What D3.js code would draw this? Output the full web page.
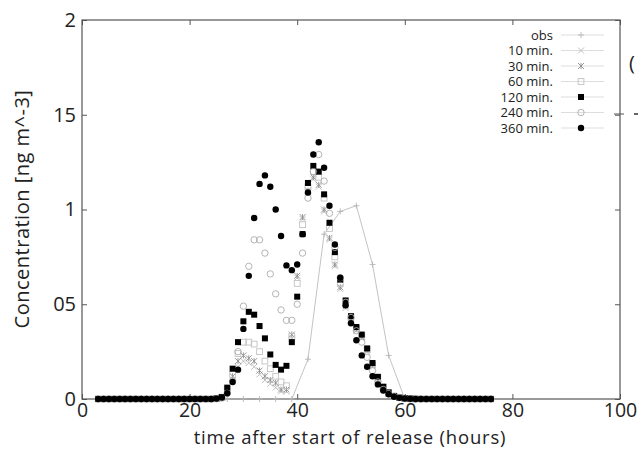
<!DOCTYPE html>
<html>
<head>
<meta charset="utf-8">
<script src="https://cdn.jsdelivr.net/npm/d3@7"></script>
<style>
  body { margin: 0; background: #fff; }
  svg { display: block; }
  text { font-family: "Open Sans", "Noto Sans", sans-serif; fill: #222; }
</style>
</head>
<body>
<svg id="chart" width="638" height="449"></svg>
<script>
// hours of model output
var hours = d3.range(3, 77);
// observation times (every 3 h)
var obsHours = [3, 6, 9, 12, 15, 18, 21, 24, 27, 30, 33, 36, 39, 42, 45, 48, 51, 54, 57, 60, 63, 66, 69, 72, 75];
var obs = [0, 0, 0, 0, 0, 0, 0, 0, 0, 0, 0, 0, 0, 0.21, 0.87, 0.99, 1.02, 0.71, 0.23, 0, 0, 0, 0, 0, 0];

// model runs, hours 3..76
var m10 = [0,0,0,0,0,0,0,0,0,0,0,0,0,0,0,0,0,0,0,0,0,0,
  0.002,0.008,0.04,0.10,0.17,0.20,0.19,0.17,0.13,0.10,0.08,0.06,0.04,0.04,0.32,0.64,0.95,1.09,1.16,1.12,0.99,0.84,0.70,0.58,0.48,0.41,0.36,0.32,0.25,0.17,0.10,0.055,0.028,0.014,0.006,0.003,0.001,0,
  0,0,0,0,0,0,0,0,0,0,0,0,0,0];
var m30 = [0,0,0,0,0,0,0,0,0,0,0,0,0,0,0,0,0,0,0,0,0,0,
  0.002,0.01,0.05,0.12,0.20,0.23,0.215,0.20,0.15,0.12,0.10,0.085,0.05,0.05,0.34,0.65,0.96,1.10,1.17,1.13,1.00,0.85,0.71,0.59,0.49,0.42,0.37,0.33,0.26,0.18,0.11,0.06,0.03,0.015,0.007,0.003,0.001,0,
  0,0,0,0,0,0,0,0,0,0,0,0,0,0];
var m60 = [0,0,0,0,0,0,0,0,0,0,0,0,0,0,0,0,0,0,0,0,0,0,
  0.002,0.01,0.05,0.13,0.24,0.30,0.30,0.29,0.25,0.20,0.16,0.12,0.09,0.07,0.33,0.61,0.92,1.12,1.20,1.17,1.06,0.90,0.75,0.61,0.50,0.43,0.37,0.33,0.26,0.18,0.11,0.06,0.03,0.015,0.007,0.003,0.001,0,
  0,0,0,0,0,0,0,0,0,0,0,0,0,0];
var m120 = [0,0,0,0,0,0,0,0,0,0,0,0,0,0,0,0,0,0,0,0,0,0,
  0.003,0.01,0.06,0.16,0.30,0.41,0.46,0.445,0.385,0.32,0.235,0.18,0.155,0.175,0.30,0.54,0.87,1.14,1.23,1.20,1.08,0.93,0.775,0.63,0.52,0.437,0.38,0.34,0.267,0.19,0.117,0.065,0.035,0.016,0.008,0.004,0.002,0.001,
  0,0,0,0,0,0,0,0,0,0,0,0,0,0];
var m240 = [0,0,0,0,0,0,0,0,0,0,0,0,0,0,0,0,0,0,0,0,0,0,
  0.001,0.005,0.03,0.095,0.25,0.49,0.70,0.84,0.84,0.77,0.66,0.555,0.47,0.415,0.415,0.50,0.77,1.06,1.20,1.29,1.15,0.98,0.80,0.64,0.51,0.43,0.36,0.30,0.22,0.15,0.09,0.05,0.028,0.014,0.007,0.003,0.001,0,
  0,0,0,0,0,0,0,0,0,0,0,0,0,0];
var m360 = [0,0,0,0,0,0,0,0,0,0,0,0,0,0,0,0,0,0,0,0,0,0,
  0.002,0.008,0.03,0.09,0.155,0.37,0.65,0.955,1.135,1.18,1.12,1.00,0.86,0.705,0.68,0.71,0.87,1.09,1.29,1.355,1.22,1.02,0.815,0.64,0.495,0.40,0.31,0.23,0.17,0.12,0.077,0.045,0.025,0.012,0.006,0.003,0.001,0,
  0,0,0,0,0,0,0,0,0,0,0,0,0,0];

// axis ticks
var xTicks = [0, 20, 40, 60, 80, 100];
var yTicks = [0, 0.5, 1, 1.5, 2];
var yTickLabels = ['0', '05', '1', '15', '2'];

var series = [
  { name: 'obs', x: obsHours, y: obs, sym: 'plus', color: '#b4b4b4', line: true },
  { name: '10 min.', x: hours, y: m10, sym: 'cross', color: '#b8b8b8' },
  { name: '30 min.', x: hours, y: m30, sym: 'star', color: '#8c8c8c' },
  { name: '60 min.', x: hours, y: m60, sym: 'osquare', color: '#c2c2c2' },
  { name: '120 min.', x: hours, y: m120, sym: 'fsquare', color: '#000' },
  { name: '240 min.', x: hours, y: m240, sym: 'ocircle', color: '#ababab' },
  { name: '360 min.', x: hours, y: m360, sym: 'fcircle', color: '#000' }
];

var svg = d3.select('#chart');
//plot box
var plotL = 82, plotR = 620, plotT = 20, plotB = 399;

var x = d3.scaleLinear().domain([0, 100]).range([plotL, plotR]);
var y = d3.scaleLinear().domain([0, 2]).range([plotB, plotT]);

//draw one marker at cx, cy
function marker(g, sym, color, cx, cy) {
    var s = 3;
    if (sym === 'plus') {
        g.append('path').attr('d', `M${cx - s},${cy}H${cx + s}M${cx},${cy - s}V${cy + s}`)
            .attr('stroke', color).attr('stroke-width', 0.9).attr('fill', 'none');
    } else if (sym === 'cross') {
        g.append('path').attr('d', `M${cx - s},${cy - s}L${cx + s},${cy + s}M${cx - s},${cy + s}L${cx + s},${cy - s}`)
            .attr('stroke', color).attr('stroke-width', 0.9).attr('fill', 'none');
    } else if (sym === 'star') {
        g.append('path').attr('d', `M${cx - s},${cy - s}L${cx + s},${cy + s}M${cx - s},${cy + s}L${cx + s},${cy - s}M${cx},${cy - s}V${cy + s}`)
            .attr('stroke', color).attr('stroke-width', 0.9).attr('fill', 'none');
    } else if (sym === 'osquare') {
        g.append('rect').attr('x', cx - 2.9).attr('y', cy - 2.9).attr('width', 5.8).attr('height', 5.8)
            .attr('fill', 'none').attr('stroke', color).attr('stroke-width', 0.9);
    } else if (sym === 'fsquare') {
        g.append('rect').attr('x', cx - 3).attr('y', cy - 3).attr('width', 6).attr('height', 6)
            .attr('fill', color);
    } else if (sym === 'ocircle') {
        g.append('circle').attr('cx', cx).attr('cy', cy).attr('r', 3.2)
            .attr('fill', 'none').attr('stroke', color).attr('stroke-width', 0.9);
    } else if (sym === 'fcircle') {
        g.append('circle').attr('cx', cx).attr('cy', cy).attr('r', 3.2).attr('fill', color);
    }
}

// frame
svg.append('rect').attr('x', plotL).attr('y', plotT).attr('width', plotR - plotL).attr('height', plotB - plotT)
    .attr('fill', 'none').attr('stroke', '#555').attr('stroke-width', 1.2);

// axes, ticks pointing inward
var xAxis = svg.append('g').attr('transform', `translate(0,${plotB})`)
    .call(d3.axisBottom(x).tickValues(xTicks).tickSize(-5).tickPadding(4.5).tickFormat(d3.format('d')));
var xTop = svg.append('g').attr('transform', `translate(0,${plotT})`)
    .call(d3.axisTop(x).tickValues(xTicks).tickSize(-5).tickFormat(''));
var yAxis = svg.append('g').attr('transform', `translate(${plotL},0)`)
    .call(d3.axisLeft(y).tickValues(yTicks).tickSize(-5).tickPadding(6).tickFormat((d, i) => yTickLabels[i]));
var yRight = svg.append('g').attr('transform', `translate(${plotR},0)`)
    .call(d3.axisRight(y).tickValues(yTicks).tickSize(-5).tickFormat(''));

[xAxis, xTop, yAxis, yRight].forEach(g => {
    g.select('.domain').remove();
    g.selectAll('line').attr('stroke', '#555');
    g.selectAll('text').style('font-size', '20px').attr('fill', '#222');
});
xAxis.selectAll('text').style('font-size', '19.5px');

// series
series.forEach(s => {
    var g = svg.append('g');
    if (s.line) {
        var pts = s.x.map((d, i) => [x(d), y(s.y[i])]);
        g.append('path').attr('d', d3.line()(pts)).attr('fill', 'none')
            .attr('stroke', s.color).attr('stroke-width', 0.8);
    }
    s.x.forEach((d, i) => marker(g, s.sym, s.color, x(d), y(s.y[i])));
});

// legend
var leg = svg.append('g');
series.forEach((s, i) => {
    var cy = 35 + i * 15.5;
    leg.append('text').attr('x', 553).attr('y', cy + 4.5).attr('text-anchor', 'end')
        .style('font-size', '13px').text(s.name);
    leg.append('line').attr('x1', 561).attr('x2', 604).attr('y1', cy).attr('y2', cy)
        .attr('stroke', '#d4d4d4').attr('stroke-width', 0.8);
    marker(leg, s.sym, s.color, 581, cy);
});

// axis titles
svg.append('text').attr('x', 350).attr('y', 443.5).attr('text-anchor', 'middle')
    .style('font-size', '18.5px').style('letter-spacing', '0.8px').text('time after start of release (hours)');
svg.append('text').attr('transform', 'translate(29,209) rotate(-90)').attr('text-anchor', 'middle')
    .style('font-size', '20px').style('letter-spacing', '0.5px').text('Concentration [ng m^-3]');

// edge of the next panel
svg.append('text').attr('x', 629).attr('y', 70).style('font-size', '20px').text('(');
svg.append('line').attr('x1', 614).attr('x2', 624).attr('y1', 114).attr('y2', 114).attr('stroke', '#555');
svg.append('line').attr('x1', 634).attr('x2', 638).attr('y1', 114).attr('y2', 114).attr('stroke', '#333').attr('stroke-width', 1.5);
</script>
</body>
</html>
